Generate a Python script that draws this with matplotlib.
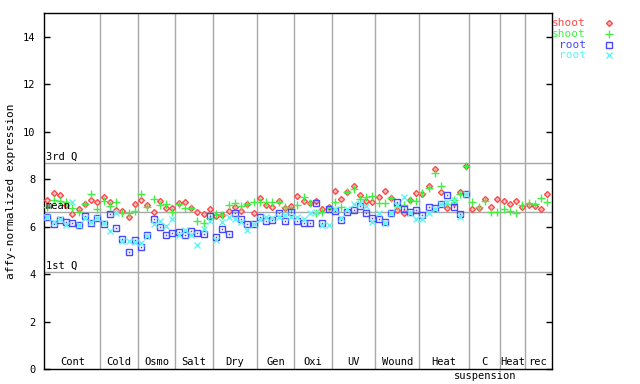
"""Expression of one probe set across AtGenExpress stress series (shoot / root)"""

import numpy as np
import matplotlib
matplotlib.use("Agg")
import matplotlib.pyplot as plt
from matplotlib.transforms import blended_transform_factory

# categories and number of samples in each
categories = ["Cont", "Cold", "Osmo", "Salt", "Dry", "Gen", "Oxi", "UV",
              "Wound", "Heat", "C\nsuspension", "Heat", "rec"]
counts = [9, 6, 6, 6, 7, 6, 6, 7, 7, 8, 5, 4, 4]

# shoot, replicate 1 (red diamonds)
shoot_a = [7.12, 7.40, 7.33, 6.91, 6.53, 6.75, 6.94, 7.12, 7.02,
           7.24, 7.05, 6.70, 6.67, 6.39, 6.94,
           7.12, 6.90, 6.60, 7.08, 6.77, 6.80,
           6.98, 7.05, 6.77, 6.63, 6.53, 6.73,
           6.45, 6.50, 6.67, 6.84, 6.66, 6.94, 6.56,
           7.19, 6.91, 6.84, 7.08, 6.77, 6.88,
           7.31, 7.08, 6.98, 7.08, 6.73, 6.81,
           7.52, 7.15, 7.47, 7.71, 7.33, 7.07, 7.02,
           7.24, 7.52, 7.19, 6.70, 6.56, 7.12, 7.43,
           7.36, 7.73, 8.43, 7.45, 6.77, 7.01, 7.45, 8.55,
           6.73, 6.77, 7.16, 6.84, 7.15,
           7.09, 6.94, 7.09, 6.81,
           6.91, 6.87, 6.73, 7.36]
# shoot, replicate 2 (green plus)
shoot_b = [6.81, 7.12, 7.09, 7.02, 6.80, 6.63, 6.94, 7.36, 6.73,
           7.09, 6.87, 7.02, 6.59, 6.59, 6.66,
           7.36, 6.81, 7.15, 6.91, 6.95, 6.63,
           6.95, 6.77, 6.80, 6.25, 6.17, 6.38,
           6.53, 6.49, 6.91, 6.98, 6.87, 6.94, 7.05,
           7.05, 7.05, 7.02, 7.05, 6.81, 6.73,
           6.93, 7.24, 6.98, 6.59, 6.63, 6.77,
           7.05, 6.81, 7.47, 7.57, 7.15, 7.23, 7.31,
           7.01, 6.98, 7.19, 6.87, 6.91, 7.10, 7.08,
           7.40, 7.61, 8.25, 7.71, 6.95, 7.12, 7.36, 8.55,
           7.02, 6.84, 7.09, 6.60, 6.60,
           6.73, 6.67, 6.56, 6.91,
           6.98, 6.95, 7.19, 7.05]
# root, replicate 1 (blue squares) - no root samples for the last three sets
root_a = [6.39, 6.11, 6.28, 6.21, 6.17, 6.07, 6.45, 6.17, 6.38,
          6.11, 6.53, 5.93, 5.47, 4.94, 5.44,
          5.13, 5.65, 6.32, 6.00, 5.65, 5.72,
          5.79, 5.65, 5.82, 5.72, 5.68, 6.45,
          5.55, 5.89, 5.69, 6.56, 6.31, 6.10, 6.10,
          6.39, 6.24, 6.28, 6.56, 6.24, 6.60,
          6.24, 6.17, 6.14, 6.98, 6.14, 6.73,
          6.67, 6.28, 6.63, 6.70, 6.87, 6.56, 6.35,
          6.31, 6.18, 6.59, 7.02, 6.73, 6.60, 6.70,
          6.49, 6.81, 6.80, 6.95, 7.33, 6.81, 6.52, 7.36]
# root, replicate 2 (cyan crosses)
root_b = [6.42, 6.20, 6.30, 6.07, 7.02, 6.07, 6.35, 6.20, 6.38,
          6.14, 5.82, 6.59, 5.40, 5.39, 5.37,
          5.32, 5.62, 6.10, 6.25, 6.03, 6.31,
          5.65, 5.85, 5.65, 5.22, 5.90, 6.25,
          5.44, 6.21, 6.39, 6.31, 6.20, 5.86, 6.10,
          6.31, 6.42, 6.35, 6.42, 6.50, 6.42,
          6.42, 6.30, 6.59, 6.63, 6.07, 6.07,
          6.73, 6.35, 6.73, 6.94, 6.98, 6.87, 6.21,
          6.56, 6.17, 6.59, 6.90, 7.24, 6.59, 6.31,
          6.31, 6.59, 6.75, 6.95, 7.05, 7.12, 6.42, 7.36]

# summary lines
stats = {"3rd Q": 8.69, "mean": 6.62, "1st Q": 4.09}

mono = "DejaVu Sans Mono"
red, green, blue, cyan = "#ff4848", "#44ee44", "#4848ff", "#60f4f4"
grid_col = "#a8a8a8"

fig = plt.figure(figsize=(6.4, 3.84), dpi=100)
ax = fig.add_axes([44 / 640, 15 / 384, 508 / 640, 356 / 384])

# group separators
bounds = np.cumsum(counts)
for b in bounds[:-1]:
    ax.axvline(b - 0.5, color=grid_col, lw=1, zorder=1)

# quartile / mean lines
for name, val in stats.items():
    ax.axhline(val, color=grid_col, lw=1, zorder=1)
    ax.text(0.003, val + 0.05, name, transform=blended_transform_factory(ax.transAxes, ax.transData),
            ha="left", va="bottom", fontsize=7.5, family=mono, color="black", zorder=6)

# points
xs = np.arange(len(shoot_a))
xr = np.arange(len(root_a))
ax.plot(xs, shoot_a, ls="none", marker="D", ms=3.0, mfc="#ffc4c4", mec=red, mew=1, zorder=3)
ax.plot(xs, shoot_b, ls="none", marker="+", ms=5.5, mec=green, mew=1, zorder=3)
ax.plot(xr, root_a, ls="none", marker="s", ms=4.2, mfc="none", mec=blue, mew=1, zorder=3)
ax.plot(xr, root_a, ls="none", marker="s", ms=1.1, mfc=blue, mec=blue, mew=0, zorder=3)
ax.plot(xr, root_b, ls="none", marker="x", ms=3.8, mec=cyan, mew=1, zorder=4)

# category labels along the bottom (a second line goes below the axis)
trans = blended_transform_factory(ax.transData, ax.transAxes)
starts = np.concatenate([[0], bounds[:-1]])
for name, s, n in zip(categories, starts, counts):
    for j, line in enumerate(name.split("\n")):
        ax.text(s + (n - 1) / 2, 0.033 - 0.04 * j, line, transform=trans, ha="center", va="top",
                fontsize=7.5, family=mono)

ax.set_xlim(-0.53, 80.75)
ax.set_ylim(0, 15)
ax.set_xticks([])
ax.set_yticks(np.arange(0, 15, 2))
ax.tick_params(axis="y", direction="in", length=4.5, width=1, right=True, labelsize=7.5, pad=6)
for lab in ax.get_yticklabels():
    lab.set_family(mono)
for sp in ax.spines.values():
    sp.set_color("black")
    sp.set_linewidth(1)
ax.set_ylabel("affy-normalized expression", family=mono, fontsize=8, labelpad=5)

# legend on the right, text right-aligned, marker after it
legend_items = [("shoot", red, "D", 3.0), ("shoot", green, "+", 5.5),
                ("root", blue, "s", 4.2), ("root", cyan, "x", 3.8)]
for k, (lab, col, mk, ms) in enumerate(legend_items):
    yf = 1 - (23 + 10.8 * k) / 384
    fig.text(586 / 640, yf, lab, color=col, ha="right", va="center", fontsize=8, family=mono)
    fc = "#ffc4c4" if mk == "D" else "none"
    fig.lines.append(plt.Line2D([609 / 640], [yf], transform=fig.transFigure, marker=mk, ms=ms,
                                mfc=fc, mec=col, mew=1, ls="none"))

fig.savefig("out.png", dpi=100)
